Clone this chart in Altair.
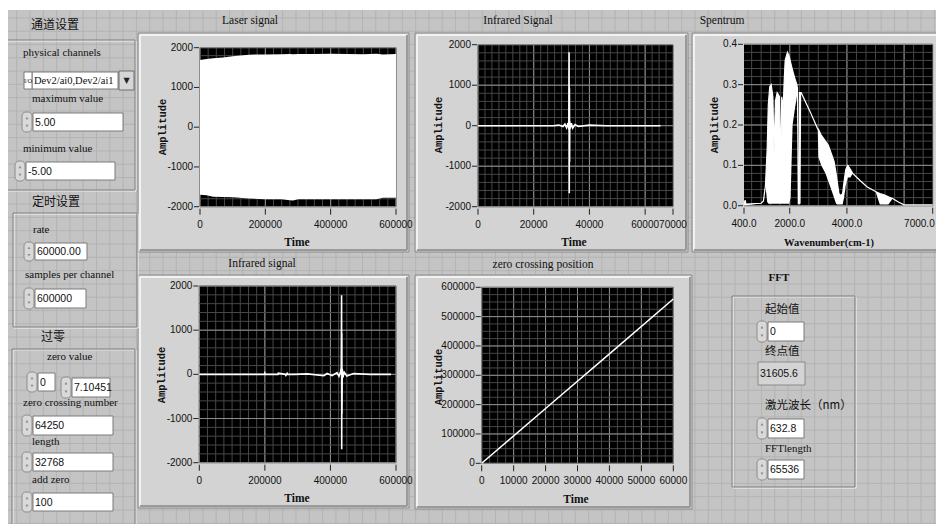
import altair as alt
import numpy as np
import pandas as pd

# ------------------------------------------------------------------ values
laser_t = [0, 20000, 40000, 70000, 100000, 150000, 200000, 250000, 275000,
           285000, 300000, 350000, 400000, 450000, 500000, 540000, 560000, 600000]
laser_hi = [1690, 1715, 1735, 1755, 1785, 1825, 1830, 1835, 1840,
            1835, 1840, 1840, 1845, 1840, 1838, 1845, 1830, 1840]
laser_lo = [-1700, -1715, -1750, -1755, -1765, -1795, -1810, -1815, -1835,
            -1845, -1815, -1815, -1815, -1812, -1815, -1815, -1772, -1772]

ir1_t = [0, 27000, 29000, 30500, 31200, 31800, 32300, 32600, 32700, 32760, 32820,
         32880, 32940, 33100, 33500, 34000, 34800, 36000, 40000, 46000, 65536]
ir1_y = [0, 0, 15, -20, 40, -50, 70, -90, 1815, -1665, 935,
         -895, 110, -70, 60, -60, 30, -20, 15, 0, 0]

sp_wn = [400, 440, 470, 1000, 1080, 1150, 1210, 1250, 1300, 1350,
         1410, 1450, 1500, 1560, 1640, 1680, 1720, 1770, 1800, 1840,
         1920, 1980, 2030, 2100, 2180, 2250, 2270, 2300, 2330, 2340,
         2380, 2400, 2700, 2980, 3000, 3100, 3250, 3350, 3450, 3550,
         3620, 3680, 3720, 3780, 3850, 3900, 3960, 4030, 4120, 4200,
         4450, 4700, 5000, 5150, 5300, 5450, 5600, 5800, 6000, 7000]
sp_hi = [0.004, 0.014, 0.004, 0.006, 0.012, 0.05, 0.14, 0.25, 0.295, 0.30,
         0.27, 0.13, 0.26, 0.28, 0.27, 0.10, 0.27, 0.24, 0.30, 0.36,
         0.38, 0.37, 0.355, 0.335, 0.315, 0.30, 0.29, 0.005, 0.005, 0.28,
         0.28, 0.28, 0.235, 0.19, 0.19, 0.175, 0.16, 0.15, 0.13, 0.11,
         0.08, 0.05, 0.03, 0.025, 0.03, 0.06, 0.09, 0.10, 0.09, 0.08,
         0.063, 0.047, 0.035, 0.03, 0.027, 0.022, 0.018, 0.009, 0.002, 0.002]
sp_lo = [0.001, 0.001, 0.001, 0.006, 0.012, 0.05, 0.01, 0.005, 0.005, 0.005,
         0.005, 0.005, 0.005, 0.005, 0.005, 0.005, 0.005, 0.005, 0.005, 0.005,
         0.005, 0.005, 0.02, 0.20, 0.24, 0.27, 0.29, 0.005, 0.005, 0.005,
         0.005, 0.28, 0.235, 0.19, 0.12, 0.10, 0.08, 0.06, 0.04, 0.02,
         0.005, 0.003, 0.003, 0.003, 0.003, 0.02, 0.05, 0.07, 0.07, 0.08,
         0.063, 0.047, 0.035, 0.003, 0.003, 0.003, 0.018, 0.009, 0.002, 0.002]

ir2_t = [0, 199000, 200000, 201000, 240000, 241000, 262000, 264000, 268000, 270000,
         290000, 330000, 380000, 390000, 405000, 420000, 426000, 431000, 433000, 434000,
         434400, 434800, 435200, 436000, 438000, 442000, 450000, 470000, 520000, 585000]
ir2_y = [0, 0, 25, 0, 0, 25, 0, -25, 25, 0,
         0, 10, -30, 20, -30, 40, -45, 60, 150, 1790,
         -1695, 930, -900, 130, -70, 50, -40, 20, 0, 0]

zc_t = [0, 20000, 40000, 60000]
zc_y = [0, 187000, 373000, 560000]

amp_ticks = [-2000, -1000, 0, 1000, 2000]
t600_ticks = [0, 200000, 400000, 600000]
t70_ticks = [0, 20000, 40000, 60000, 70000]
wn_ticks = [400, 2000, 4000, 7000]
spa_ticks = [0.0, 0.1, 0.2, 0.3, 0.4]
zcx_ticks = [0, 10000, 20000, 30000, 40000, 50000, 60000]
zcy_ticks = [0, 100000, 200000, 300000, 400000, 500000, 600000]

plot_titles = ["Laser signal", "Infrared Signal", "Spentrum", "Infrared signal", "zero crossing position"]
x_titles = ["Time", "Time", "Wavenumber(cm-1)", "Time", "Time"]
y_title = "Amplitude"

group_titles = ["通道设置", "定时设置", "过零"]
control_labels = ["physical channels", "maximum value", "minimum value", "rate",
                  "samples per channel", "zero value", "zero crossing number", "length", "add zero"]
control_values = ["Dev2/ai0,Dev2/ai1", "5.00", "-5.00", "60000.00", "600000", "0",
                  "7.10451", "64250", "32768", "100"]
fft_title = "FFT"
fft_labels = ["起始值", "终点值", "激光波长（nm）", "FFTlength"]
fft_values = ["0", "31605.6", "632.8", "65536"]

# ------------------------------------------------------------------ layout / style
OFF = 8
W, H = 928, 516


def P(v):
    return v - OFF


SERIF = "Liberation Serif"
MONO = "Liberation Mono"
SANS = "Liberation Sans"
CJK = "Noto Sans CJK SC"
BG = "#c4c4c4"
BG_GRID = "#b3b3b3"
FRAME = "#d3d3d3"
MINOR = "#474747"
MAJOR = "#8e8e8e"
TICK_FS = 10
VAL_FS = 10.5

PLOTS = [
    dict(xdom=[0, 600000], ydom=[-2000, 2000], x0=200, x1=396, y0=47.7, y1=206.7,
         xmaj=200000, xmin=25000, ymaj=1000, ymin=200, tx=250, ty=21,
         xtx=297, xty=243, ytx=163, yty=127, frame=(138, 33, 409, 252)),
    dict(xdom=[0, 70000], ydom=[-2000, 2000], x0=478, x1=673, y0=44.7, y1=206.7,
         xmaj=20000, xmin=2500, ymaj=1000, ymin=200, tx=518, ty=21,
         xtx=574, xty=243, ytx=439, yty=125, frame=(415, 33, 688, 252)),
    dict(xdom=[400, 7000], ydom=[0, 0.4], x0=744, x1=932.7, y0=44.3, y1=205.7,
         xmaj=2000, xmin=2000 / 6, ymaj=0.1, ymin=0.02, tx=722, ty=21,
         xtx=829, xty=243, ytx=715, yty=125, frame=(692, 33, 952, 252)),
    dict(xdom=[0, 600000], ydom=[-2000, 2000], x0=199.3, x1=396, y0=286, y1=462.7,
         xmaj=200000, xmin=25000, ymaj=1000, ymin=200, tx=262, ty=264,
         xtx=297, xty=499, ytx=162, yty=375, frame=(138, 275, 409, 508)),
    dict(xdom=[0, 60000], ydom=[0, 600000], x0=481.7, x1=673.3, y0=287.3, y1=463.3,
         xmaj=10000, xmin=2500, ymaj=100000, ymin=25000, tx=543, ty=265,
         xtx=576, xty=500, ytx=439, yty=377, frame=(415, 275, 692, 509)),
]

GROUP_BOXES = [(4, 40, 135, 190), (13, 213, 137, 327), (12, 349, 135, 527), (732, 296, 855, 487)]
GROUP_TITLE_POS = [(55, 25), (56, 202), (53, 337)]
LABEL_POS = [(23, 53), (32, 99), (23, 149), (33, 230), (25, 275), (47, 357), (23, 403), (32, 442), (32, 480)]
VALUE_BOX = [(32, 72, 118, 89), (33, 113, 123, 131), (26, 162, 115, 180), (35, 243, 87, 260),
             (35, 289, 86, 308), (38, 373, 55, 391), (72, 378, 110, 397), (33, 416, 113, 435),
             (33, 453, 113, 471), (33, 493, 113, 511)]
FFT_TITLE_POS = (779, 278)
FFT_LABEL_POS = [(765, 310), (765, 352), (765, 406), (765, 449)]
FFT_BOX = [(768, 322, 804, 341), (758, 362, 805, 385), (768, 419, 804, 438), (768, 460, 804, 479)]


def px_enc(df_cols=("x", "x2", "y", "y2")):
    x, x2, y, y2 = df_cols
    return dict(x=alt.X(f"{x}:Q", scale=None), x2=alt.X2(f"{x2}:Q"),
                y=alt.Y(f"{y}:Q", scale=None), y2=alt.Y2(f"{y2}:Q"))


def rects(boxes, **mark):
    df = pd.DataFrame([dict(x=P(a), x2=P(c), y=P(b), y2=P(d)) for (a, b, c, d) in boxes])
    return alt.Chart(df).mark_rect(**mark).encode(**px_enc())


def segs(lines, **mark):
    df = pd.DataFrame([dict(x=P(a), y=P(b), x2=P(c), y2=P(d)) for (a, b, c, d) in lines])
    return alt.Chart(df).mark_rule(**mark).encode(**px_enc())


def texts(rows, font, size, align="left", weight="normal", angle=0, color="#111"):
    df = pd.DataFrame([dict(s=s, x=P(x), y=P(y)) for (s, x, y) in rows])
    return alt.Chart(df).mark_text(font=font, fontSize=size, align=align, baseline="middle",
                                   fontWeight=weight, angle=angle, color=color).encode(
        x=alt.X("x:Q", scale=None), y=alt.Y("y:Q", scale=None), text="s:N")


def grid_vals(lo, hi, step):
    k0 = int(np.ceil(lo / step - 1e-9))
    k1 = int(np.floor(hi / step + 1e-9))
    return [k * step for k in range(k0, k1 + 1)]


def fmt(v, dec):
    return f"{v:.{dec}f}" if dec else str(int(v))


def plot_layers(p, data_fn, xt, yt, xdec=0, ydec=0, last_right=False):
    xsc = alt.Scale(domain=p["xdom"], range=[P(p["x0"]), P(p["x1"])], nice=False, zero=False)
    ysc = alt.Scale(domain=p["ydom"], range=[P(p["y1"]), P(p["y0"])], nice=False, zero=False)

    def X(f):
        return alt.X(f"{f}:Q", scale=xsc, axis=None)

    def Y(f):
        return alt.Y(f"{f}:Q", scale=ysc, axis=None)

    L = []
    bg = pd.DataFrame({"a": [p["xdom"][0]], "b": [p["xdom"][1]], "c": [p["ydom"][0]], "d": [p["ydom"][1]]})
    L.append(alt.Chart(bg).mark_rect(color="black").encode(x=X("a"), x2=alt.X2("b"), y=Y("c"), y2=alt.Y2("d")))
    gx = [(v, MINOR) for v in grid_vals(p["xdom"][0], p["xdom"][1], p["xmin"])] + \
         [(v, MAJOR) for v in grid_vals(p["xdom"][0], p["xdom"][1], p["xmaj"])]
    gy = [(v, MINOR) for v in grid_vals(p["ydom"][0], p["ydom"][1], p["ymin"])] + \
         [(v, MAJOR) for v in grid_vals(p["ydom"][0], p["ydom"][1], p["ymaj"])]
    L.append(alt.Chart(pd.DataFrame(gx, columns=["v", "c"])).mark_rule(strokeWidth=1).encode(
        x=X("v"), y=alt.value(P(p["y0"])), y2=alt.value(P(p["y1"])), color=alt.Color("c:N", scale=None)))
    L.append(alt.Chart(pd.DataFrame(gy, columns=["v", "c"])).mark_rule(strokeWidth=1).encode(
        y=Y("v"), x=alt.value(P(p["x0"])), x2=alt.value(P(p["x1"])), color=alt.Color("c:N", scale=None)))
    L.extend(data_fn(X, Y))
    xtd = pd.DataFrame({"v": xt, "lab": [fmt(v, xdec) for v in xt]})
    ytd = pd.DataFrame({"v": yt, "lab": [fmt(v, ydec) for v in yt]})
    L.append(alt.Chart(xtd).mark_rule(color="#222", strokeWidth=1).encode(
        x=X("v"), y=alt.value(P(p["y1"]) + 2), y2=alt.value(P(p["y1"]) + 8)))
    L.append(alt.Chart(ytd).mark_rule(color="#222", strokeWidth=1).encode(
        y=Y("v"), x=alt.value(P(p["x0"]) - 6), x2=alt.value(P(p["x0"]) - 1)))
    centered = xtd.iloc[:-1] if last_right else xtd
    L.append(alt.Chart(centered).mark_text(font=SANS, fontSize=TICK_FS, align="center", baseline="middle",
                                           color="#111").encode(
        x=X("v"), y=alt.value(P(p["y1"]) + 18), text="lab:N"))
    if last_right:
        L.append(alt.Chart(xtd.iloc[-1:]).mark_text(font=SANS, fontSize=TICK_FS, align="right",
                                                    baseline="middle", dx=2, color="#111").encode(
            x=X("v"), y=alt.value(P(p["y1"]) + 18), text="lab:N"))
    L.append(alt.Chart(ytd).mark_text(font=SANS, fontSize=TICK_FS, align="right", baseline="middle",
                                      color="#111").encode(
        y=Y("v"), x=alt.value(P(p["x0"]) - 7), text="lab:N"))
    return L


def laser_marks(X, Y):
    df = pd.DataFrame({"t": laser_t, "hi": laser_hi, "lo": laser_lo})
    return [alt.Chart(df).mark_area(color="white", opacity=1).encode(x=X("t"), y=Y("hi"), y2=alt.Y2("lo"))]


def ir1_marks(X, Y):
    df = pd.DataFrame({"t": ir1_t, "v": ir1_y})
    return [alt.Chart(df).mark_line(color="white", strokeWidth=1.6).encode(x=X("t"), y=Y("v"))]


def sp_marks(X, Y):
    df = pd.DataFrame({"w": sp_wn, "hi": sp_hi, "lo": sp_lo})
    return [alt.Chart(df).mark_area(color="white", opacity=1).encode(x=X("w"), y=Y("hi"), y2=alt.Y2("lo")),
            alt.Chart(df).mark_line(color="white", strokeWidth=1.2).encode(x=X("w"), y=Y("hi"))]


def ir2_marks(X, Y):
    df = pd.DataFrame({"t": ir2_t, "v": ir2_y})
    return [alt.Chart(df).mark_line(color="white", strokeWidth=1.6).encode(x=X("t"), y=Y("v"))]


def zc_marks(X, Y):
    df = pd.DataFrame({"t": zc_t, "v": zc_y})
    return [alt.Chart(df).mark_line(color="white", strokeWidth=1.5).encode(x=X("t"), y=Y("v"))]


layers = []

# panel background grid
vx = [v for v in np.arange(3.4, 944, 13.3)]
hy = [v for v in np.arange(17.9, 532, 13.3)]
layers.append(alt.Chart(pd.DataFrame({"x": [P(v) for v in vx]})).mark_rule(color=BG_GRID, strokeWidth=1).encode(
    x=alt.X("x:Q", scale=None), y=alt.value(P(10)), y2=alt.value(H)))
layers.append(alt.Chart(pd.DataFrame({"y": [P(v) for v in hy]})).mark_rule(color=BG_GRID, strokeWidth=1).encode(
    y=alt.Y("y:Q", scale=None), x=alt.value(0), x2=alt.value(W)))
layers.append(alt.Chart(pd.DataFrame({"a": [0]})).mark_rect(color="white").encode(
    x=alt.value(0), x2=alt.value(W), y=alt.value(0), y2=alt.value(P(10))))

# graph frames (raised)
frames = [p["frame"] for p in PLOTS]
layers.append(rects(frames, fill=FRAME, stroke="#8a8a8a", strokeWidth=1))
hl, sh = [], []
for (a, b, c, d) in frames:
    hl += [(a + 2, b + 2, c - 2, b + 2), (a + 2, b + 2, a + 2, d - 2)]
    sh += [(a + 2, d - 2, c - 2, d - 2), (c - 2, b + 2, c - 2, d - 2)]
layers.append(segs(hl, color="#f2f2f2", strokeWidth=2))
layers.append(segs(sh, color="#9a9a9a", strokeWidth=2))

# group boxes (etched)
layers.append(rects([(a + 1, b + 1, c + 1, d + 1) for (a, b, c, d) in GROUP_BOXES],
                    fill="white", fillOpacity=0, stroke="#f4f4f4", strokeWidth=1))
layers.append(rects(GROUP_BOXES, fill="white", fillOpacity=0, stroke="#7e7e7e", strokeWidth=1))

# plots
layers += plot_layers(PLOTS[0], laser_marks, t600_ticks, amp_ticks)
layers += plot_layers(PLOTS[1], ir1_marks, t70_ticks, amp_ticks)
layers += plot_layers(PLOTS[2], sp_marks, wn_ticks, spa_ticks, xdec=1, ydec=1, last_right=True)
layers += plot_layers(PLOTS[3], ir2_marks, t600_ticks, amp_ticks)
layers += plot_layers(PLOTS[4], zc_marks, zcx_ticks, zcy_ticks)

# plot titles / axis titles
layers.append(texts([(s, p["tx"], p["ty"]) for s, p in zip(plot_titles, PLOTS)], SERIF, 11.5, align="center"))
layers.append(texts([(s, p["xtx"], p["xty"]) for s, p in zip(x_titles, PLOTS) if s == "Time"],
                    SERIF, 11.5, align="center", weight="bold"))
layers.append(texts([(s, p["xtx"], p["xty"]) for s, p in zip(x_titles, PLOTS) if s != "Time"],
                    SERIF, 10.5, align="center", weight="bold"))
layers.append(texts([(y_title, p["ytx"], p["yty"]) for p in PLOTS], MONO, 10.5, align="center",
                    weight="bold", angle=270))

# control widgets
spin_boxes = VALUE_BOX[1:] + [FFT_BOX[0], FFT_BOX[2], FFT_BOX[3]]
spinners = [(a - 11, b - 1, a - 1, d + 1) for (a, b, c, d) in spin_boxes]
layers.append(rects(spinners, fill="#d9d9d9", stroke="#8c8c8c", strokeWidth=1, cornerRadius=4))
tri_up = pd.DataFrame([dict(x=P((a + c) / 2), y=P(b + (d - b) * 0.3)) for (a, b, c, d) in spinners])
tri_dn = pd.DataFrame([dict(x=P((a + c) / 2), y=P(b + (d - b) * 0.7)) for (a, b, c, d) in spinners])
layers.append(alt.Chart(tri_up).mark_point(shape="triangle-up", filled=True, size=9, color="#6a6a6a").encode(
    x=alt.X("x:Q", scale=None), y=alt.Y("y:Q", scale=None)))
layers.append(alt.Chart(tri_dn).mark_point(shape="triangle-down", filled=True, size=9, color="#6a6a6a").encode(
    x=alt.X("x:Q", scale=None), y=alt.Y("y:Q", scale=None)))

white_boxes = VALUE_BOX + [FFT_BOX[0], FFT_BOX[2], FFT_BOX[3]]
layers.append(rects(white_boxes, fill="white", stroke="#7a7a7a", strokeWidth=1))
layers.append(rects([FFT_BOX[1]], fill="#d4d4d4", stroke="#8a8a8a", strokeWidth=1))
# dropdown extras
layers.append(rects([(24, 72, 32, 89)], fill="white", stroke="#7a7a7a", strokeWidth=1))
layers.append(rects([(119, 71, 134, 90)], fill="#d6d6d6", stroke="#6e6e6e", strokeWidth=1))
layers.append(texts([("I/O", 28, 80.5)], SERIF, 6, align="center"))
layers.append(texts([("▼", 126.5, 81)], "DejaVu Sans", 8, align="center", color="#222"))

# control texts
layers.append(texts([(s, x, y) for s, (x, y) in zip(group_titles, GROUP_TITLE_POS)], CJK, 12, align="center"))
layers.append(texts([(s, x, y) for s, (x, y) in zip(control_labels, LABEL_POS)], SERIF, 11))
layers.append(texts([(control_values[0], VALUE_BOX[0][0] + 2, (VALUE_BOX[0][1] + VALUE_BOX[0][3]) / 2)],
                    SERIF, 10.5))
layers.append(texts([(s, b[0] + 2, (b[1] + b[3]) / 2 + 0.5) for s, b in zip(control_values[1:], VALUE_BOX[1:])],
                    SANS, VAL_FS))
layers.append(texts([(fft_title, FFT_TITLE_POS[0], FFT_TITLE_POS[1])], SERIF, 11, align="center", weight="bold"))
layers.append(texts([(s, x, y) for s, (x, y) in zip(fft_labels[:3], FFT_LABEL_POS[:3])], CJK, 11.5))
layers.append(texts([(fft_labels[3], FFT_LABEL_POS[3][0], FFT_LABEL_POS[3][1])], SERIF, 11))
layers.append(texts([(s, b[0] + 2, (b[1] + b[3]) / 2 + 0.5) for s, b in zip(fft_values, FFT_BOX)],
                    SANS, VAL_FS))

chart = alt.layer(*layers).resolve_scale(x="independent", y="independent").properties(
    width=W, height=H, padding=0, background=BG,
    autosize=alt.AutoSizeParams(type="none"),
).configure_view(strokeWidth=0)

chart.save("out.html", embed_options={"renderer": "svg", "actions": False})
